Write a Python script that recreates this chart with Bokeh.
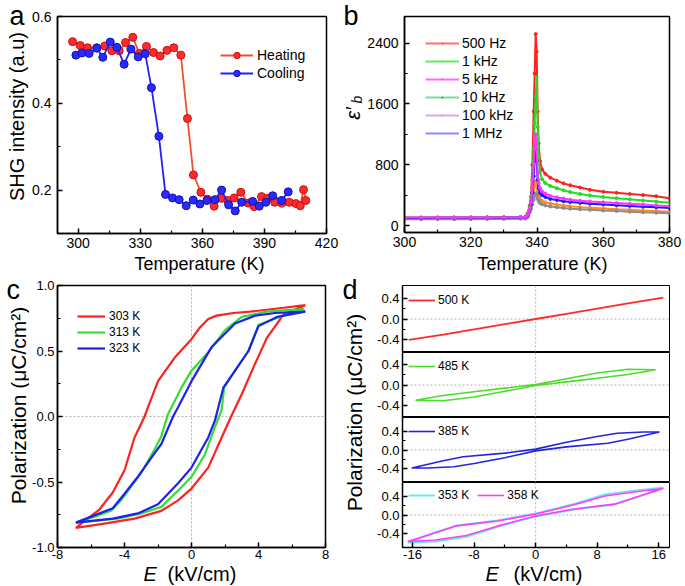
from math import pi
from bokeh.plotting import figure
from bokeh.models import Range1d, FixedTicker, Label, Legend, LegendItem, Span
from bokeh.layouts import row, column
from bokeh.embed import file_html
from bokeh.resources import INLINE

FONT = "Liberation Sans"
NAN = float("nan")

# ---------------- panel a: SHG ----------------
heat_T = [297.3, 301.0, 304.5, 309.0, 312.9, 316.3, 319.8, 322.9, 326.4, 329.5, 333.0, 336.4,
          339.6, 342.9, 346.2, 349.6, 352.8, 355.7, 359.3, 362.5, 365.7, 369.3, 372.3, 375.4,
          378.6, 382.2, 385.0, 388.6, 391.5, 395.0, 398.4, 402.0, 405.2, 407.3, 408.9, 410.0]
heat_v = [0.542, 0.533, 0.528, 0.528, 0.532, 0.521, 0.521, 0.540, 0.552, 0.515, 0.531, 0.517,
          0.509, 0.522, 0.528, 0.511, 0.365, 0.235, 0.195, 0.179, 0.163, 0.181, 0.176, 0.182,
          0.195, 0.170, 0.162, 0.185, 0.181, 0.172, 0.170, 0.172, 0.169, 0.164, 0.201, 0.176]
cool_T = [298.9, 301.8, 305.3, 309.0, 311.9, 315.5, 318.7, 322.2, 325.5, 329.0, 332.4, 335.4,
          339.0, 342.2, 345.6, 348.8, 352.2, 355.6, 358.8, 362.2, 366.1, 369.3, 372.7, 375.9,
          379.0, 384.3, 387.5, 390.7, 394.0, 398.4, 401.5]
cool_v = [0.511, 0.516, 0.515, 0.527, 0.506, 0.541, 0.529, 0.490, 0.525, 0.507, 0.514, 0.436,
          0.324, 0.190, 0.182, 0.178, 0.164, 0.177, 0.168, 0.176, 0.178, 0.200, 0.166, 0.152,
          0.172, 0.174, 0.163, 0.172, 0.187, 0.176, 0.196]
a_xticks = [300, 330, 360, 390, 420]
a_xlabels = ["300", "330", "360", "390", "420"]
a_yticks = [0.2, 0.4, 0.6]
a_ylabels = ["0.2", "0.4", "0.6"]

# ---------------- panel b: dielectric ----------------
b_T = [300, 305, 310, 315, 320, 325, 330, 335, 336.5, 337.2, 337.8, 338.2, 338.6, 339.0, 339.3,
       339.6, 339.9, 340.2, 340.5, 340.9, 341.5, 342.5, 344, 346, 348, 350, 353, 356, 360, 364,
       368, 372, 376, 380]
b_500Hz = [105, 105, 106, 106, 107, 108, 110, 112, 115, 160, 260, 380, 800, 1500, 2000,
           2520, 2290, 1500, 1080, 850, 740, 680, 630, 590, 555, 530, 500, 470, 445, 430,
           415, 400, 385, 360]
b_1kHz = [102, 102, 103, 103, 104, 105, 107, 109, 112, 150, 240, 330, 600, 1000, 1350,
          1700, 1950, 1300, 900, 700, 610, 560, 520, 490, 465, 440, 415, 395, 375, 360,
          345, 330, 315, 300]
b_5kHz = [104, 104, 105, 105, 106, 107, 108, 110, 113, 140, 220, 300, 500, 800, 1050,
          1200, 1000, 700, 560, 490, 450, 420, 390, 370, 355, 340, 325, 315, 305, 295,
          285, 275, 265, 255]
b_10kHz = [100, 100, 101, 101, 102, 103, 104, 106, 109, 135, 210, 280, 430, 650, 880,
           1000, 850, 600, 490, 430, 400, 375, 350, 335, 320, 310, 298, 288, 278, 268,
           258, 248, 240, 232]
b_100kHz = [94, 94, 95, 95, 96, 97, 98, 100, 103, 125, 190, 250, 330, 430, 520,
            580, 560, 450, 390, 350, 325, 305, 290, 275, 262, 252, 242, 235, 225, 215,
            207, 198, 190, 180]
b_1MHz = [82, 82, 83, 83, 84, 85, 86, 88, 91, 110, 170, 220, 280, 340, 390,
          420, 400, 350, 320, 295, 280, 265, 250, 240, 230, 222, 214, 207, 198, 190,
          182, 175, 168, 160]
b_names = ["500 Hz", "1 kHz", "5 kHz", "10 kHz", "100 kHz", "1 MHz"]
b_xticks = [300, 320, 340, 360, 380]
b_xlabels = ["300", "320", "340", "360", "380"]
b_yticks = [0, 800, 1600, 2400]
b_ylabels = ["0", "800", "1600", "2400"]

# ---------------- panel c: P-E loops ----------------
c303_E = [6.8, 5.5, 4.5, 3.5, 2.5, 1.5, 1.0, 0.5, 0.0, -1.0, -2.0, -2.6, -2.8, -3.4, -4.0,
          -4.7, -5.5, -6.3, -6.9,
          -5.3, -3.4, -1.8, -0.8, 0.0, 1.0, 1.8, 2.4, 3.0, 3.75, 4.5, 5.5, 6.8]
c303_P = [0.85, 0.83, 0.815, 0.80, 0.79, 0.77, 0.745, 0.68, 0.59, 0.45, 0.27, 0.07, 0.0,
          -0.16, -0.41, -0.58, -0.71, -0.79, -0.85,
          -0.82, -0.78, -0.72, -0.64, -0.55, -0.39, -0.16, 0.01, 0.17, 0.39, 0.60, 0.78, 0.85]
c313_E = [6.7, 5.5, 4.5, 3.0, 2.0, 1.0, 0.0, -0.6, -1.4, -1.8, -2.2, -3.0, -4.2, -4.8, -5.9,
          -6.9,
          -4.4, -3.0, -1.8, -0.6, 0.0, 0.8, 1.4, 1.8, 1.95, 2.6, 3.4, 4.0, 5.5, 6.7]
c313_P = [0.82, 0.81, 0.80, 0.76, 0.66, 0.49, 0.35, 0.22, 0.02, -0.15, -0.25, -0.43, -0.64,
          -0.72, -0.77, -0.81,
          -0.78, -0.74, -0.69, -0.54, -0.46, -0.29, -0.08, 0.05, 0.22, 0.35, 0.50, 0.70,
          0.77, 0.82]
c323_E = [6.8, 5.0, 3.8, 2.6, 1.2, 0.0, -0.8, -1.1, -1.8, -2.2, -3.2, -4.0, -4.7, -6.1, -6.9,
          -4.7, -3.2, -2.0, -0.8, 0.0, 1.0, 1.4, 1.9, 2.6, 3.4, 4.0, 5.1, 6.8]
c323_P = [0.80, 0.79, 0.77, 0.71, 0.53, 0.27, 0.07, 0.0, -0.21, -0.28, -0.46, -0.59, -0.70,
          -0.77, -0.81,
          -0.78, -0.74, -0.67, -0.51, -0.39, -0.16, -0.03, 0.22, 0.35, 0.50, 0.69, 0.76, 0.80]
c_names = ["303 K", "313 K", "323 K"]
c_xticks = [-8, -4, 0, 4, 8]
c_xlabels = ["-8", "-4", "0", "4", "8"]
c_yticks = [-1.0, -0.5, 0.0, 0.5, 1.0]
c_ylabels = ["-1.0", "-0.5", "0.0", "0.5", "1.0"]

# ---------------- panel d: P-E loops at high T ----------------
d500_E = [-16.5, -12, -8, -4, 0, 4, 8, 12, 16.6]
d500_P = [-0.40, -0.30, -0.20, -0.10, 0.0, 0.10, 0.20, 0.30, 0.41]
d485_E = [15.6, 12, 8, 4, 0, -4, -8, -12, -15.6, -12, -8, -4, 0, 4, 8, 12, 15.6]
d485_P = [0.29, 0.30, 0.23, 0.12, 0.01, -0.06, -0.13, -0.20, -0.29, -0.30, -0.23, -0.12,
          -0.01, 0.06, 0.13, 0.20, 0.29]
d385_E = [16.1, 14, 10.6, 8, 4, 0, -4, -9.4, -12, -16.1, -14, -10.6, -8, -4, 0, 4, 9.4, 12, 16.1]
d385_P = [0.40, 0.40, 0.37, 0.30, 0.17, 0.02, -0.07, -0.15, -0.24, -0.40, -0.40, -0.37,
          -0.30, -0.17, -0.02, 0.07, 0.15, 0.24, 0.40]
d353_E = [16.6, 13, 9, 5, 0, -5, -10, -13, -16.6, -13, -9, -5, 0, 5, 10, 13, 16.6]
d353_P = [0.59, 0.53, 0.44, 0.24, 0.03, -0.12, -0.22, -0.37, -0.59, -0.57, -0.47, -0.26,
          -0.03, 0.12, 0.22, 0.37, 0.59]
d358_E = [16.6, 13, 9, 5, 0, -5, -10.5, -13, -16.6, -13, -9, -5, 0, 5, 10.5, 13, 16.6]
d358_P = [0.57, 0.50, 0.41, 0.22, 0.02, -0.13, -0.24, -0.38, -0.57, -0.54, -0.44, -0.24,
          -0.02, 0.13, 0.24, 0.38, 0.57]
d_xticks = [-16, -8, 0, 8, 16]
d_xlabels = ["-16", "-8", "0", "8", "16"]
d_yticks = [-0.4, 0.0, 0.4]
d_ylabels = ["-0.4", "0.0", "0.4"]


# ---------------- helpers ----------------
def no_align(p):
    if hasattr(p, "frame_align"):
        p.frame_align = False


def base_fig(width, height, xr, yr, mb, x_axis=True, outline=1.5):
    p = figure(width=width, height=height, x_range=Range1d(*xr), y_range=Range1d(*yr),
               output_backend="svg", toolbar_location=None,
               x_axis_location="below" if x_axis else None,
               min_border_left=mb[0], min_border_right=mb[1],
               min_border_top=mb[2], min_border_bottom=mb[3])
    p.grid.visible = False
    p.outline_line_color = "black"
    p.outline_line_width = outline
    p.outline_line_alpha = 1
    p.background_fill_color = "white"
    p.border_fill_color = "white"
    no_align(p)
    return p


def strip_fig(width, height):
    p = figure(width=width, height=height, x_range=Range1d(0, 1), y_range=Range1d(0, 1),
               output_backend="svg", toolbar_location=None,
               x_axis_location=None, y_axis_location=None,
               min_border_left=0, min_border_right=0, min_border_top=0, min_border_bottom=0)
    p.grid.visible = False
    p.outline_line_color = None
    p.background_fill_color = "white"
    p.border_fill_color = "white"
    no_align(p)
    return p


def style_axis(ax, ticks, minor, labels, size="14px", standoff=4):
    ax.ticker = FixedTicker(ticks=ticks, minor_ticks=minor)
    ax.major_label_overrides = {t: l for t, l in zip(ticks, labels)}
    ax.major_tick_in = 5
    ax.major_tick_out = 0
    ax.minor_tick_in = 3
    ax.minor_tick_out = 0
    ax.axis_line_width = 1.5
    ax.major_tick_line_width = 1.5
    ax.minor_tick_line_width = 1.2
    ax.major_label_text_font = FONT
    ax.major_label_text_font_size = size
    ax.major_label_standoff = standoff
    ax.major_label_text_color = "black"


def lab(p, x, y, text, size, angle=0.0, align="left", style="normal"):
    # anchor is the vertical middle of the text box
    p.add_layout(Label(x=x, y=y, x_units="screen", y_units="screen", text=text,
                       text_font=FONT, text_font_size=size, angle=angle,
                       text_align=align, text_baseline="middle",
                       text_font_style=style, text_color="black"))


def zero_lines(p):
    for dim in ("height", "width"):
        p.add_layout(Span(location=0, dimension=dim, line_color="#b4b4b4",
                          line_dash="2 2", line_width=1, level="underlay"))


def make_legend(p, items, loc, size="14px", gw=33, gh=16, spacing=2, standoff=4,
                orientation="vertical"):
    leg = Legend(items=items, location=loc, orientation=orientation,
                 border_line_alpha=0, background_fill_alpha=0, padding=0, margin=0,
                 spacing=spacing, glyph_width=gw, glyph_height=gh, label_height=gh,
                 label_standoff=standoff, label_text_font=FONT, label_text_font_size=size,
                 label_text_color="black")
    p.add_layout(leg)


# ---------------- panel a ----------------
pa = base_fig(311, 253, (290, 420), (0.1, 0.6), (28, 14, 16, 20))
style_axis(pa.xaxis[0], a_xticks, [315, 345, 375, 405], a_xlabels, standoff=4)
style_axis(pa.yaxis[0], a_yticks, [0.3, 0.5], a_ylabels, standoff=6)
hl = pa.line(heat_T, heat_v, line_color="#f0502a", line_width=1.8)
hs = pa.scatter(heat_T, heat_v, size=8, fill_color="#ff2a2a", line_color="#c81010")
cl = pa.line(cool_T, cool_v, line_color="#1f1fff", line_width=1.8)
cs = pa.scatter(cool_T, cool_v, size=8, fill_color="#2a2aff", line_color="#1010b0")
make_legend(pa, [LegendItem(label="Heating", renderers=[hl, hs]),
                 LegendItem(label="Cooling", renderers=[cl, cs])], (163, 152),
            size="14px", gw=33, gh=16, spacing=2, standoff=4)

# ---------------- panel b ----------------
pb = base_fig(321, 253, (300, 380), (-92, 2751), (38, 16, 16, 21))
style_axis(pb.xaxis[0], b_xticks, [310, 330, 350, 370], b_xlabels, standoff=4)
style_axis(pb.yaxis[0], b_yticks, [400, 1200, 2000], b_ylabels, standoff=6)
b_series = [b_500Hz, b_1kHz, b_5kHz, b_10kHz, b_100kHz, b_1MHz]
b_colors = ["#ff2020", "#22dd22", "#ff33ff", "#1a1aff", "#ff8c1a", "#8c8c8c"]
b_leg_line = ["#ff7070", "#66e866", "#ff6aff", "#80d8a0", "#d8a8f0", "#8c8cff"]
for idx in [0, 1, 4, 5, 3, 2]:
    pb.line(b_T, b_series[idx], line_color=b_colors[idx], line_width=2)
    pb.scatter(b_T, b_series[idx], size=3, fill_color=b_colors[idx], line_color=b_colors[idx])
b_items = []
for name, lc, mc in zip(b_names, b_leg_line, b_colors):
    r1 = pb.line(x=[NAN], y=[NAN], line_color=lc, line_width=2)
    r2 = pb.scatter(x=[NAN], y=[NAN], size=3, marker="dot", line_color=mc, line_width=3)
    b_items.append(LegendItem(label=name, renderers=[r1, r2]))
make_legend(pb, b_items, (21, 91), size="14px", gw=34, gh=16, spacing=2, standoff=3)

# ---------------- panel c ----------------
pc = base_fig(311, 288, (-8, 8), (-1, 1), (26, 15, 11, 15))
style_axis(pc.xaxis[0], c_xticks, [-6, -2, 2, 6], c_xlabels, size="13px", standoff=2)
style_axis(pc.yaxis[0], c_yticks, [-0.75, -0.25, 0.25, 0.75], c_ylabels, size="13px",
           standoff=3)
zero_lines(pc)
c_items = []
for name, E, P, col in zip(c_names, [c303_E, c313_E, c323_E], [c303_P, c313_P, c323_P],
                           ["#ff2020", "#33dd33", "#1f1fee"]):
    r = pc.line(E, P, line_color=col, line_width=2.2)
    c_items.append(LegendItem(label=name, renderers=[r]))
make_legend(pc, c_items, (20, 192), size="12px", gw=28, gh=14, spacing=2, standoff=4)

# ---------------- panel d ----------------
dx = (-17.3, 17.4)
d1 = base_fig(319, 78, dx, (-0.64, 0.64), (36, 16, 11, 0), x_axis=False, outline=1)
d2 = base_fig(319, 65, dx, (-0.62, 0.62), (36, 16, 0, 0), x_axis=False, outline=1)
d3 = base_fig(319, 65, dx, (-0.72, 0.72), (36, 16, 0, 0), x_axis=False, outline=1)
d4 = base_fig(319, 80, dx, (-0.70, 0.70), (36, 16, 0, 15), outline=1)
for p in (d1, d2, d3, d4):
    style_axis(p.yaxis[0], d_yticks, [-0.2, 0.2], d_ylabels, size="13px", standoff=3)
    zero_lines(p)
style_axis(d4.xaxis[0], d_xticks, [-12, -4, 4, 12], d_xlabels, size="13px", standoff=2)

r500 = d1.line(d500_E, d500_P, line_color="#ff2a2a", line_width=1.8)
make_legend(d1, [LegendItem(label="500 K", renderers=[r500])], (6, 45), size="12px",
            gw=27, gh=14, standoff=3)
r485 = d2.line(d485_E, d485_P, line_color="#4cdc2a", line_width=1.6)
make_legend(d2, [LegendItem(label="485 K", renderers=[r485])], (6, 44), size="12px",
            gw=27, gh=14, standoff=3)
r385 = d3.line(d385_E, d385_P, line_color="#2424e0", line_width=1.6)
make_legend(d3, [LegendItem(label="385 K", renderers=[r385])], (6, 44), size="12px",
            gw=27, gh=14, standoff=3)
r353 = d4.line(d353_E, d353_P, line_color="#66e8f5", line_width=2)
r358 = d4.line(d358_E, d358_P, line_color="#ff3cff", line_width=1.6)
make_legend(d4, [LegendItem(label="353 K", renderers=[r353]),
                 LegendItem(label="358 K", renderers=[r358])], (6, 45), size="12px",
            gw=27, gh=14, spacing=8, standoff=3, orientation="horizontal")

# ---------------- text strips (panel letters and axis titles) ----------------
sA = strip_fig(29, 253)
lab(sA, 9, 237.5, "a", "27px")
lab(sA, 16, 137, "SHG intensity (a.u)", "20px", angle=pi / 2, align="center")

sB = strip_fig(24, 253)
lab(sB, 3, 237.5, "b", "27px")
lab(sB, 12.5, 140, "ε′", "20px", angle=pi / 2, align="center", style="italic")
lab(sB, 16, 154, "b", "14px", angle=pi / 2, align="center", style="italic")

sT = strip_fig(685, 21)
lab(sT, 199, 10.5, "Temperature (K)", "18px", align="center")
lab(sT, 542, 10.5, "Temperature (K)", "18px", align="center")

sC = strip_fig(29, 288)
lab(sC, 6, 272.8, "c", "27px")
lab(sC, 17.5, 157, "Polarization (μC/cm²)", "21px", angle=pi / 2, align="center")

sD = strip_fig(26, 288)
lab(sD, 2, 272.8, "d", "27px")
lab(sD, 14.2, 150, "Polarization (μC/cm²)", "21px", angle=pi / 2, align="center")

sE = strip_fig(685, 24)
lab(sE, 143, 12.5, "E", "20px", style="italic")
lab(sE, 167, 12.5, "(kV/cm)", "20px")
lab(sE, 485, 12.5, "E", "20px", style="italic")
lab(sE, 513, 12.5, "(kV/cm)", "20px")

layout = column(
    row(sA, pa, sB, pb),
    sT,
    row(sC, pc, sD, column(d1, d2, d3, d4)),
    sE,
)

with open("out.html", "w", encoding="utf-8") as f:
    f.write(file_html(layout, INLINE))
